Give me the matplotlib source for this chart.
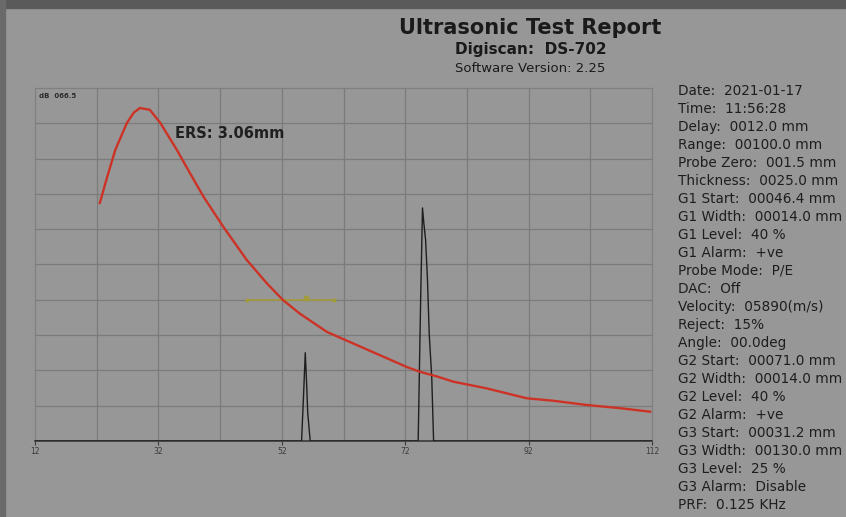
import matplotlib.pyplot as plt
from matplotlib.patches import Rectangle

# DAC curve (red)
dac_x = [22.5, 23.7, 25.0, 26.9, 28.0, 29.0, 30.6, 32.3, 35.0, 37.1, 39.3, 42.5,
         46.3, 49.6, 52.2, 54.9, 59.3, 63.6, 67.9, 72.2, 74.4, 77.1, 79.8, 85.2,
         91.7, 96.0, 101.4, 106.8, 111.7]
dac_y = [67.4, 74.8, 82.4, 90.1, 93.0, 94.3, 93.8, 90.1, 82.4, 75.9, 69.2, 60.7,
         51.3, 44.6, 39.9, 36.1, 30.9, 27.6, 24.3, 21.0, 19.6, 18.3, 16.8, 14.9,
         12.1, 11.4, 10.2, 9.3, 8.3]

# A-scan trace (black)
ascan_x = [12, 55.2, 55.5, 55.8, 56.0, 56.2, 56.6, 74.1, 74.5, 74.8, 75.0, 75.3,
           75.6, 75.9, 76.3, 76.6, 112]
ascan_y = [0, 0, 12, 25, 17, 8, 0, 0, 40, 66, 62, 57, 46, 30, 18, 0, 0]

# gate 1
gate_start = 46.4
gate_width = 14.0
gate_level = 40
gate_mark = 56.0

x_ticks = [12, 32, 52, 72, 92, 112]

info_lines = [
    "Date:  2021-01-17",
    "Time:  11:56:28",
    "Delay:  0012.0 mm",
    "Range:  00100.0 mm",
    "Probe Zero:  001.5 mm",
    "Thickness:  0025.0 mm",
    "G1 Start:  00046.4 mm",
    "G1 Width:  00014.0 mm",
    "G1 Level:  40 %",
    "G1 Alarm:  +ve",
    "Probe Mode:  P/E",
    "DAC:  Off",
    "Velocity:  05890(m/s)",
    "Reject:  15%",
    "Angle:  00.0deg",
    "G2 Start:  00071.0 mm",
    "G2 Width:  00014.0 mm",
    "G2 Level:  40 %",
    "G2 Alarm:  +ve",
    "G3 Start:  00031.2 mm",
    "G3 Width:  00130.0 mm",
    "G3 Level:  25 %",
    "G3 Alarm:  Disable",
    "PRF:  0.125 KHz",
]

bg = '#979797'
fig = plt.figure(figsize=(8.46, 5.17), dpi=100, facecolor=bg)

# darker photo frame edges
fig.patches.append(Rectangle((0, 0.984), 1, 0.016, transform=fig.transFigure,
                             color='#5a5a5a', zorder=0))
fig.patches.append(Rectangle((0, 0), 0.006, 1, transform=fig.transFigure,
                             color='#6a6a6a', zorder=0))

ax = fig.add_axes([0.0414, 0.147, 0.7293, 0.683])
ax.set_facecolor(bg)
ax.set_xlim(12, 112)
ax.set_ylim(0, 100)

for v in range(22, 112, 10):
    ax.axvline(v, color='#7b7b7b', lw=0.9, zorder=1)
for h in range(10, 100, 10):
    ax.axhline(h, color='#7b7b7b', lw=0.9, zorder=1)

for side in ['top', 'left', 'right']:
    ax.spines[side].set_color('#808080')
    ax.spines[side].set_linewidth(0.9)
ax.spines['bottom'].set_color('#3a3a3a')
ax.spines['bottom'].set_linewidth(1.2)

ax.set_xticks(x_ticks)
ax.set_xticklabels([str(t) for t in x_ticks], fontsize=5.5, color='#3a3a3a')
ax.tick_params(axis='x', length=3, width=0.8, color='#3a3a3a', pad=1)
ax.set_yticks([])

ax.plot(ascan_x, ascan_y, color='#1e1e1e', lw=1.0, zorder=3)
ax.plot(dac_x, dac_y, color='#cc3326', lw=1.7, zorder=4, solid_joinstyle='round')

ax.plot([gate_start, gate_start + gate_width], [gate_level, gate_level],
        color='#a29b3a', lw=1.2, zorder=2, marker='.', markevery=[0, 1], ms=4)
ax.plot([gate_mark], [gate_level + 0.6], marker='s', ms=3, color='#a29b3a', zorder=2)

ax.text(0.007, 0.985, "dB  066.5", transform=ax.transAxes, fontsize=5,
        fontweight='bold', color='#2a2a2a', va='top', ha='left')
ax.text(0.227, 0.87, "ERS: 3.06mm", transform=ax.transAxes, fontsize=10.5,
        fontweight='bold', color='#202020', va='center', ha='left')

fig.text(0.627, 0.946, "Ultrasonic Test Report", fontsize=15, fontweight='bold',
         color='#1a1a1a', ha='center', va='center')
fig.text(0.627, 0.904, "Digiscan:  DS-702", fontsize=11, fontweight='bold',
         color='#1a1a1a', ha='center', va='center')
fig.text(0.627, 0.868, "Software Version: 2.25", fontsize=9.5,
         color='#1a1a1a', ha='center', va='center')

y0 = 1 - 91 / 517
step = 18.0 / 517
for i, line in enumerate(info_lines):
    fig.text(678 / 846, y0 - i * step, line, fontsize=9.8, color='#1e1e1e',
             ha='left', va='center')

plt.savefig("out.png", dpi=100, facecolor=bg)
